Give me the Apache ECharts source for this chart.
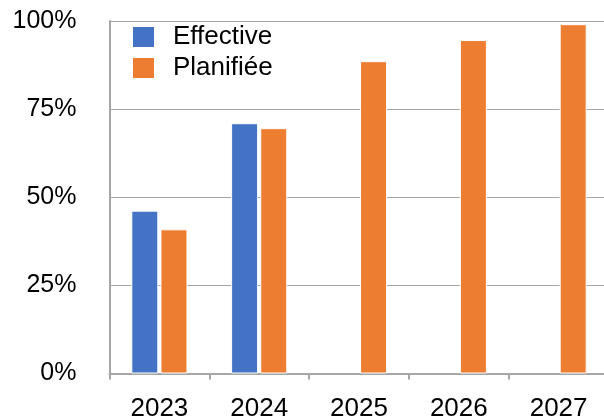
<!DOCTYPE html>
<html>
<head>
<meta charset="utf-8">
<script src="https://cdn.jsdelivr.net/npm/echarts@6/dist/echarts.min.js"></script>
<style>
  html, body { margin: 0; padding: 0; background: #fff; }
  #chart { width: 604px; height: 420px; }
</style>
</head>
<body>
<div id="chart"></div>
<script>
// Years on the category axis
const years = ['2023', '2024', '2025', '2026', '2027'];
// Share reached, in percent (null where not yet measured)
const effective = [46.2, 71.0, null, null, null];
// Share planned, in percent
const planned = [40.9, 69.6, 88.6, 94.6, 99.1];
// Value-axis ticks
const yTicks = [0, 25, 50, 75, 100];

const font = 'Liberation Sans, Arial, sans-serif';
const chart = echarts.init(document.getElementById('chart'), null, { renderer: 'canvas' });

chart.setOption({
  animation: false,
  textStyle: { fontFamily: font },
  grid: {
    left: 109.5, top: 21, width: 499, bottom: 46.5,
    outerBoundsMode: 'none', containLabel: false
  },
  legend: {
    orient: 'vertical',
    left: 131,
    top: 24,
    padding: 0,
    itemWidth: 23,
    itemHeight: 22,
    itemGap: 5,
    icon: 'rect',
    textStyle: { fontFamily: font, fontSize: 26, lineHeight: 22, color: '#000', padding: [0, 0, 0, 13] },
    data: ['Effective', 'Planifiée']
  },
  xAxis: {
    type: 'category',
    data: years,
    axisLine: { lineStyle: { color: '#a6a6a6', width: 2 } },
    axisTick: { show: true, length: 6, lineStyle: { color: '#a6a6a6', width: 2 } },
    axisLabel: { fontFamily: font, fontSize: 26, color: '#000', margin: 22 }
  },
  yAxis: {
    type: 'value',
    min: yTicks[0],
    max: yTicks[yTicks.length - 1],
    interval: yTicks[1] - yTicks[0],
    axisLine: { show: true, lineStyle: { color: '#a6a6a6', width: 2 } },
    axisTick: { show: false },
    splitLine: { lineStyle: { color: '#a6a6a6', width: 1 } },
    axisLabel: { fontFamily: font, fontSize: 25, color: '#000', margin: 33, formatter: '{value}%' }
  },
  series: [
    {
      name: 'Effective',
      type: 'bar',
      data: effective,
      barWidth: 27,
      barGap: '8%',
      itemStyle: { color: '#4472C4', borderColor: '#fff', borderWidth: 1 }
    },
    {
      name: 'Planifiée',
      type: 'bar',
      data: planned,
      barWidth: 27,
      barGap: '8%',
      itemStyle: { color: '#ED7D31', borderColor: '#fff', borderWidth: 1 }
    }
  ]
});
</script>
</body>
</html>
